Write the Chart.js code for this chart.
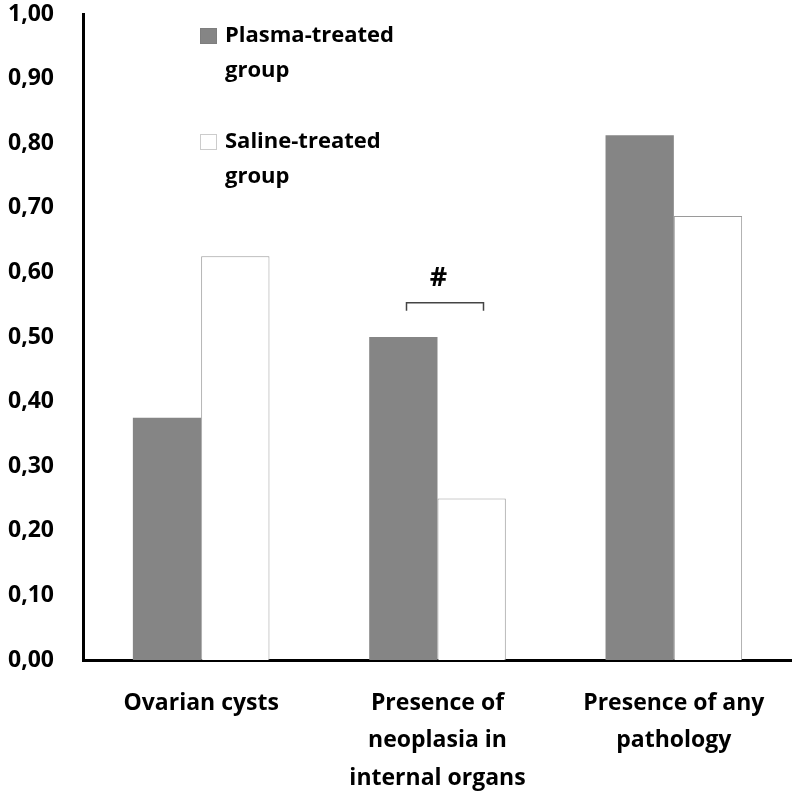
<!DOCTYPE html>
<html lang="en">
  <head>
    <meta charset="UTF-8" />
    <script src="https://cdn.jsdelivr.net/npm/chart.js"></script>
    <title>Pathology frequency</title>
    <style>
      html, body { margin: 0; padding: 0; background: white; }
      #wrap { width: 792px; height: 791px; }
    </style>
  </head>
  <body>
    <div id="wrap"><canvas id="myChart"></canvas></div>
    <script>
      // data
      const categories = [
        ["Ovarian cysts"],
        ["Presence of", "neoplasia in", "internal organs"],
        ["Presence of any", "pathology"]
      ];
      const plasma = [0.375, 0.50, 0.8125];
      const saline = [0.625, 0.25, 0.6875];
      const seriesNames = ["Plasma-treated group", "Saline-treated group"];
      const yTicks = [0, 0.1, 0.2, 0.3, 0.4, 0.5, 0.6, 0.7, 0.8, 0.9, 1.0];

      const FONT = "'Open Sans', Lato, sans-serif";

      // legend box + the "#" bracket over the neoplasia pair
      const extras = {
        id: "extras",
        afterDraw(chart) {
          const ctx = chart.ctx;
          const x = chart.scales.x, y = chart.scales.y;
          ctx.save();
          ctx.font = "bold 22px " + FONT;
          ctx.textBaseline = "middle";
          // legend
          const lx = 200;
          const items = [
            { fill: "#858585", stroke: "#777", lines: ["Plasma-treated", "group"], top: 36 },
            { fill: "#fff", stroke: "#999", lines: ["Saline-treated", "group"], top: 142 }
          ];
          items.forEach(it => {
            ctx.fillStyle = it.fill;
            ctx.fillRect(lx, it.top - 8, 17, 16);
            ctx.strokeStyle = it.stroke;
            ctx.lineWidth = 1;
            ctx.setLineDash([1, 1]);
            ctx.strokeRect(lx + 0.5, it.top - 7.5, 16, 15);
            ctx.setLineDash([]);
            ctx.fillStyle = "#000";
            ctx.textAlign = "left";
            ctx.fillText(it.lines[0], lx + 25, it.top);
            ctx.fillText(it.lines[1], lx + 25, it.top + 35);
          });
          // significance bracket
          const cx = x.getPixelForValue(1);
          const by = y.getPixelForValue(0.553);
          ctx.strokeStyle = "#444";
          ctx.lineWidth = 1.5;
          ctx.beginPath();
          ctx.moveTo(cx - 31, by + 8);
          ctx.lineTo(cx - 31, by);
          ctx.lineTo(cx + 46, by);
          ctx.lineTo(cx + 46, by + 8);
          ctx.stroke();
          ctx.font = "bold 27px " + FONT;
          ctx.textAlign = "center";
          ctx.fillStyle = "#000";
          ctx.fillText("#", cx + 1, by - 24);
          ctx.restore();
        }
      };

      const config = {
        type: "bar",
        data: {
          labels: categories,
          datasets: [
            {
              label: seriesNames[0],
              data: plasma,
              backgroundColor: "#858585",
              borderColor: "#858585",
              borderWidth: 0
            },
            {
              label: seriesNames[1],
              data: saline,
              backgroundColor: "#ffffff",
              borderColor: "#9a9a9a",
              borderWidth: 1
            }
          ]
        },
        options: {
          responsive: true,
          maintainAspectRatio: false,
          animation: false,
          layout: { padding: { top: 14, right: 0, left: 0, bottom: 0 } },
          datasets: { bar: { categoryPercentage: 0.578, barPercentage: 1.0 } },
          plugins: {
            legend: { display: false },
            tooltip: { enabled: false }
          },
          scales: {
            x: {
              grid: { display: false, drawTicks: false },
              border: { display: true, color: "#000", width: 3 },
              ticks: {
                color: "#000",
                padding: 24,
                maxRotation: 0,
                font: { family: FONT, size: 23, weight: "bold", lineHeight: 1.65 }
              },
              afterFit(scale) {
                scale.height = 131;
                scale.paddingLeft = 0;
                scale.paddingRight = 0;
              }
            },
            y: {
              min: 0,
              max: 1,
              afterBuildTicks(scale) { scale.ticks = yTicks.map(v => ({ value: v })); },
              grid: { display: false, drawTicks: false },
              border: { display: true, color: "#000", width: 3 },
              ticks: {
                color: "#000",
                padding: 29,
                font: { family: FONT, size: 23, weight: "bold" },
                callback: v => v.toFixed(2).replace(".", ",")
              },
              afterFit(scale) {
                scale.width = 83;
                scale.paddingTop = 0;
                scale.paddingBottom = 0;
              }
            }
          }
        },
        plugins: [extras]
      };
      var myChart = new Chart(document.getElementById("myChart"), config);
    </script>
  </body>
</html>
